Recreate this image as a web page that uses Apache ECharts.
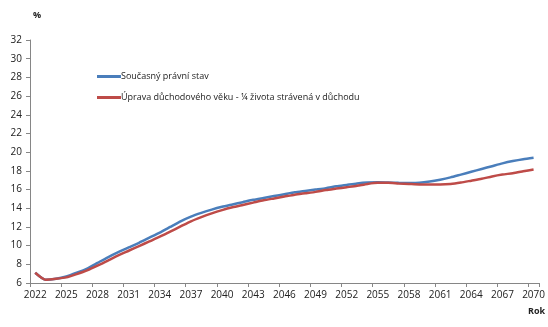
<!DOCTYPE html>
<html><head><meta charset="utf-8">
<script src="https://cdn.jsdelivr.net/npm/echarts@6/dist/echarts.min.js"></script>
<style>html,body{margin:0;padding:0;background:#fff}#c{width:548px;height:327px}</style>
</head><body><div id="c"></div>
<script>
const years = [];
for (let y = 2022; y <= 2070; y++) years.push(String(y));
const seriesNames = ['Současný právní stav', 'Úprava důchodového věku - ¼ života strávená v důchodu'];
const current = [7.1,6.35,6.45,6.7,7.1,7.55,8.15,8.75,9.3,9.8,10.3,10.85,11.4,12.0,12.6,13.1,13.5,13.85,14.15,14.4,14.65,14.9,15.1,15.3,15.5,15.7,15.85,16.0,16.15,16.35,16.5,16.65,16.75,16.78,16.75,16.72,16.7,16.72,16.85,17.05,17.3,17.6,17.9,18.2,18.5,18.8,19.05,19.25,19.4];
const reform = [7.1,6.35,6.45,6.6,6.95,7.35,7.85,8.4,8.95,9.45,9.95,10.45,10.95,11.5,12.05,12.6,13.05,13.45,13.8,14.1,14.35,14.6,14.85,15.05,15.25,15.45,15.6,15.75,15.95,16.1,16.25,16.4,16.6,16.72,16.72,16.65,16.6,16.55,16.55,16.55,16.6,16.75,16.95,17.15,17.4,17.6,17.75,17.95,18.15];
const yUnit = '%';
const xUnit = 'Rok';

const font = 'Open Sans';
const chart = echarts.init(document.getElementById('c'));
chart.setOption({
  animation: false,
  textStyle: {fontFamily: font},
  grid: {left: 30, right: 8, top: 40, bottom: 44, containLabel: false},
  legend: {
    orient: 'vertical', left: 92, top: 67, itemGap: 12,
    itemWidth: 24, itemHeight: 3, icon: 'rect',
    textStyle: {fontSize: 9, color: '#222', fontFamily: font, padding: [0,0,0,-5]},
    data: seriesNames
  },
  graphic: [
    {type: 'text', left: 33, top: 11, style: {text: yUnit, fontSize: 9, fontWeight: 'bold', fill: '#222', fontFamily: font}},
    {type: 'text', left: 528, top: 307, style: {text: xUnit, fontSize: 9, fontWeight: 'bold', fill: '#222', fontFamily: font}}
  ],
  xAxis: {
    type: 'category', data: years, boundaryGap: true,
    axisLine: {lineStyle: {color: '#868686', width: 1}},
    axisTick: {show: true, interval: 2, length: 4, lineStyle: {color: '#868686'}},
    axisLabel: {interval: 2, fontSize: 10, color: '#222', margin: 7, fontFamily: font}
  },
  yAxis: {
    type: 'value', min: 6, max: 32, interval: 2,
    splitLine: {show: false},
    axisLine: {show: true, lineStyle: {color: '#868686', width: 1}},
    axisTick: {show: true, length: 4, lineStyle: {color: '#868686'}},
    axisLabel: {fontSize: 10, color: '#222', margin: 8, fontFamily: font}
  },
  series: [
    {name: seriesNames[0], type: 'line', data: current, symbol: 'none', smooth: 0.2,
     lineStyle: {color: '#4A7EBB', width: 2.5}, itemStyle: {color: '#4A7EBB'}},
    {name: seriesNames[1], type: 'line', data: reform, symbol: 'none', smooth: 0.2,
     lineStyle: {color: '#BE4B48', width: 2.5}, itemStyle: {color: '#BE4B48'}}
  ]
});
</script></body></html>
